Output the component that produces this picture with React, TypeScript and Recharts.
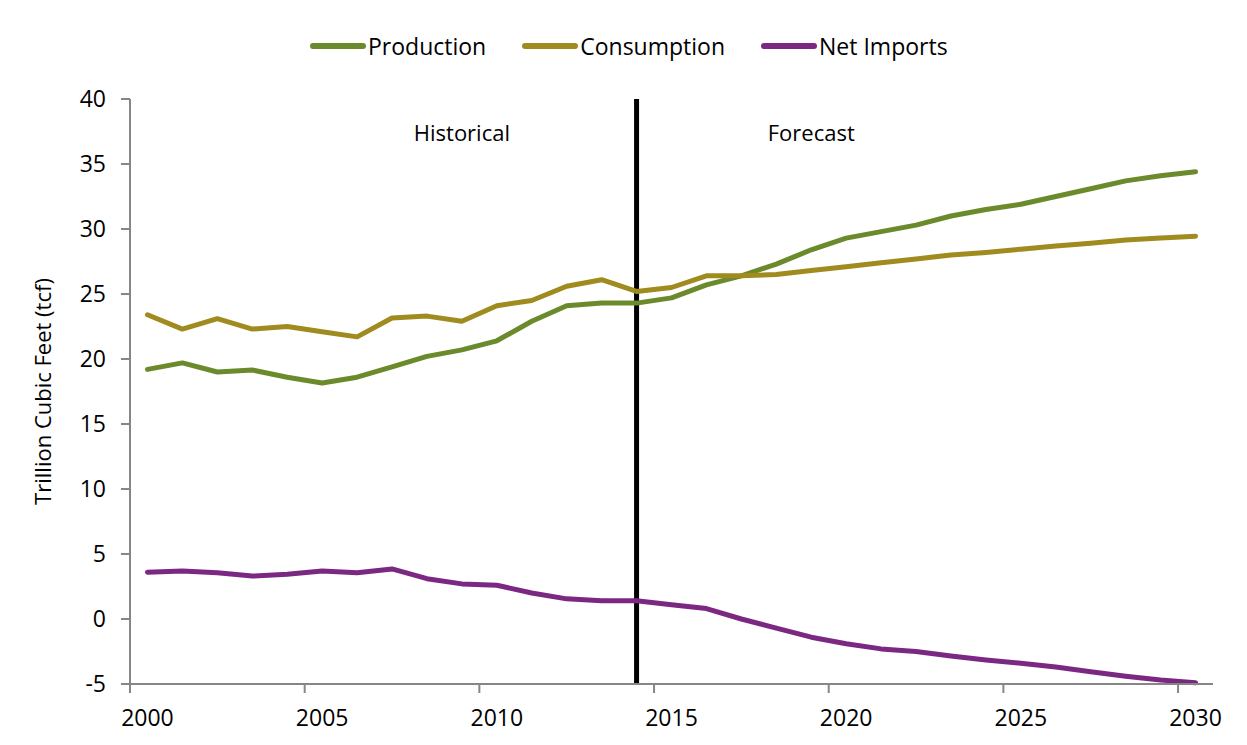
import React from "react";
import {LineChart, Line, XAxis, YAxis, ReferenceLine, ReferenceDot} from "recharts";

const years = [2000, 2001, 2002, 2003, 2004, 2005, 2006, 2007, 2008, 2009, 2010, 2011, 2012, 2013, 2014, 2015,
  2016, 2017, 2018, 2019, 2020, 2021, 2022, 2023, 2024, 2025, 2026, 2027, 2028, 2029, 2030];
const production = [19.2, 19.7, 19.0, 19.15, 18.6, 18.15, 18.6, 19.4, 20.2, 20.7, 21.4, 22.9, 24.1, 24.3, 24.3, 24.7,
  25.7, 26.4, 27.3, 28.4, 29.3, 29.8, 30.3, 31.0, 31.5, 31.9, 32.5, 33.1, 33.7, 34.1, 34.4];
const consumption = [23.4, 22.3, 23.1, 22.3, 22.5, 22.1, 21.7, 23.15, 23.3, 22.9, 24.1, 24.5, 25.6, 26.1, 25.2, 25.5,
  26.4, 26.4, 26.5, 26.8, 27.1, 27.4, 27.7, 28.0, 28.2, 28.45, 28.7, 28.9, 29.15, 29.3, 29.45];
const netImports = [3.6, 3.7, 3.55, 3.3, 3.45, 3.7, 3.55, 3.85, 3.1, 2.7, 2.6, 2.0, 1.55, 1.4, 1.4, 1.1,
  0.8, 0, -0.7, -1.4, -1.9, -2.3, -2.5, -2.85, -3.15, -3.4, -3.7, -4.05, -4.4, -4.7, -4.9];
const xTicks = [2000, 2005, 2010, 2015, 2020, 2025, 2030];
const yTicks = [-5, 0, 5, 10, 15, 20, 25, 30, 35, 40];
const splitYear = 2014;

const series = [
  {key: "production", name: "Production", color: "#6B8A2C"},
  {key: "consumption", name: "Consumption", color: "#A08B1F"},
  {key: "netImports", name: "Net Imports", color: "#7B2883"},
];

const data = years.map((year, i) => ({
  year,
  production: production[i],
  consumption: consumption[i],
  netImports: netImports[i],
}));

const FONT = "'Open Sans', sans-serif";
const PLOT_W = 1083;
const HALF_STEP = PLOT_W / years.length / 2;
const AXIS = "#868686";

const XTick = (props: any) => {
  const {x, y, payload} = props;
  return (
    <g>
      <line x1={x - HALF_STEP} x2={x - HALF_STEP} y1={y} y2={y + 9} stroke={AXIS} strokeWidth={2}/>
      <text x={x} y={y + 42} textAnchor="middle" fontSize={23} fontFamily={FONT} fill="#000">{payload.value}</text>
    </g>
  );
};

const NoteLabel = (text: string) => (props: any) => {
  const {viewBox} = props;
  const cx = viewBox.x + (viewBox.width || 0) / 2;
  const cy = viewBox.y + (viewBox.height || 0) / 2;
  return <text x={cx} y={cy} textAnchor="middle" dominantBaseline="central" fontSize={22} fontFamily={FONT} fill="#000">{text}</text>;
};

export default function App() {
  return (
    <div style={{position: "relative", margin: -8, width: 1247, height: 745, background: "#E9EDF4", overflow: "hidden"}}>
      <div style={{position: "absolute", left: 6, top: 8, width: 1241, height: 737, background: "#fff"}}/>
      <div style={{position: "absolute", left: 310, top: 30, display: "flex", alignItems: "center", fontFamily: FONT, fontSize: 23}}>
        {series.map(s => (
          <div key={s.key} style={{display: "flex", alignItems: "center", marginRight: 36}}>
            <div style={{width: 56, height: 6, borderRadius: 3, background: s.color, marginRight: 2}}/>
            <span>{s.name}</span>
          </div>
        ))}
      </div>
      <div style={{position: "absolute", left: 0, top: 0}}>
        <LineChart width={1247} height={745} data={data} margin={{top: 99, right: 34, bottom: 31, left: 0}}>
          <XAxis dataKey="year" type="number" domain={[years[0] - 0.5, years[years.length - 1] + 0.5]} ticks={xTicks}
                 interval={0} height={30} tickLine={false} tickSize={0} tickMargin={0} tick={<XTick/>}
                 axisLine={{stroke: AXIS, strokeWidth: 2}}/>
          <YAxis type="number" domain={[-5, 40]} ticks={yTicks} interval={0} width={130} tickSize={9} tickMargin={15}
                 axisLine={{stroke: AXIS, strokeWidth: 2}} tickLine={{stroke: AXIS, strokeWidth: 2}}
                 tick={{fill: "#000", fontSize: 23, fontFamily: FONT}}
                 label={{
                   content: (p: any) => {
                     const vb = p.viewBox;
                     const cy = vb.y + vb.height / 2;
                     return <text x={42} y={cy} transform={`rotate(-90 42 ${cy})`} textAnchor="middle" dominantBaseline="central"
                                  fontSize={22} fontFamily={FONT} fill="#000">Trillion Cubic Feet (tcf)</text>;
                   }
                 }}/>
          <ReferenceLine x={splitYear} stroke="#000" strokeWidth={5}/>
          <ReferenceDot x={2009} y={37.5} r={0} fill="none" stroke="none" label={NoteLabel("Historical")}/>
          <ReferenceDot x={2019} y={37.5} r={0} fill="none" stroke="none" label={NoteLabel("Forecast")}/>
          {series.map(s => (
            <Line key={s.key} type="linear" dataKey={s.key} name={s.name} stroke={s.color} strokeWidth={5}
                  dot={false} isAnimationActive={false} strokeLinejoin="round" strokeLinecap="round"/>
          ))}
        </LineChart>
      </div>
    </div>
  );
}
